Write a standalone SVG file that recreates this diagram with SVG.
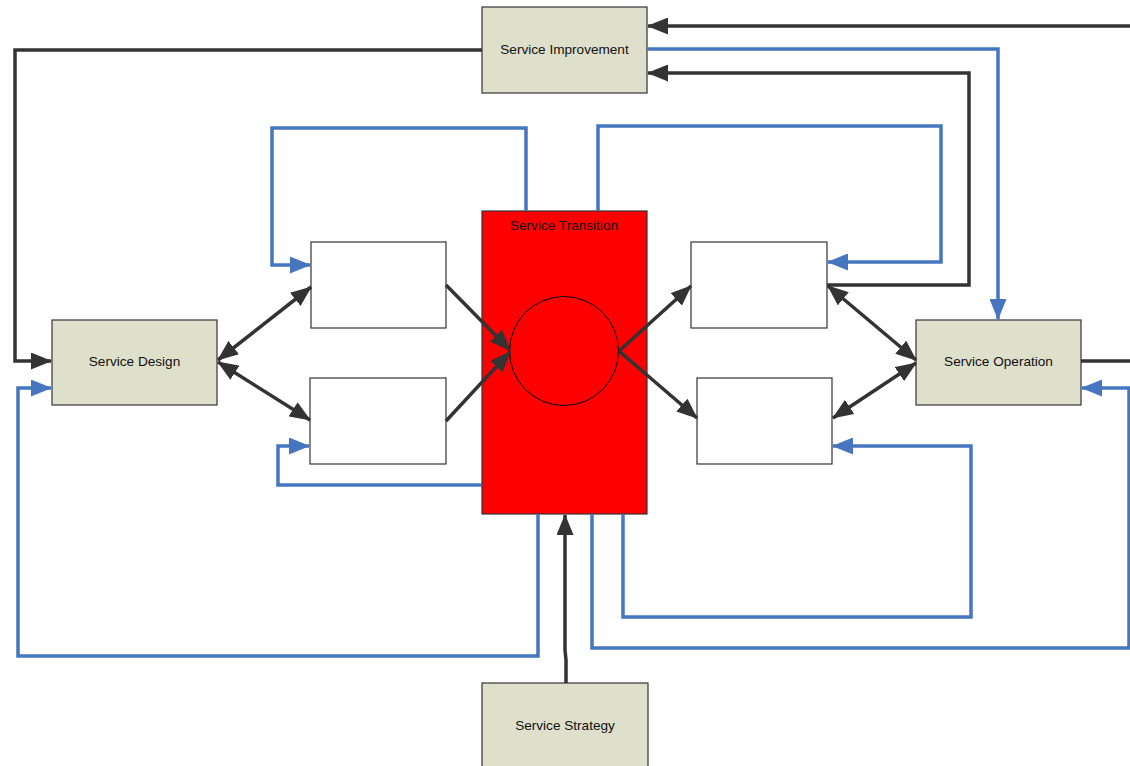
<svg xmlns="http://www.w3.org/2000/svg" width="1130" height="766" viewBox="0 0 1130 766">
  <style>
    .box { fill: #dee0cc; stroke: #333; stroke-width: 1.2; }
    .plain { fill: #fff; stroke: #333; stroke-width: 1.2; }
    .lbl { font-family: "Liberation Sans", Arial, sans-serif; font-size: 13.6px; fill: #111; text-anchor: middle; dominant-baseline: central; }
    .dk { fill: none; stroke: #333; stroke-width: 3.5; stroke-linejoin: miter; }
    .bl { fill: none; stroke: #4676c0; stroke-width: 3.5; stroke-linejoin: miter; }
    .dk.a { marker-end: url(#ah-dk); }
    .dk.aa { marker-start: url(#ah-dk); marker-end: url(#ah-dk); }
    .bl.a { marker-end: url(#ah-bl); }
  </style>
  <defs>
    <marker id="ah-dk" markerUnits="userSpaceOnUse" markerWidth="21" markerHeight="17" viewBox="0 0 21 17" refX="20" refY="8.5" orient="auto-start-reverse">
      <path d="M0,0 L21,8.5 L0,17 Z" fill="#333"/>
    </marker>
    <marker id="ah-bl" markerUnits="userSpaceOnUse" markerWidth="21" markerHeight="17" viewBox="0 0 21 17" refX="20" refY="8.5" orient="auto-start-reverse">
      <path d="M0,0 L21,8.5 L0,17 Z" fill="#4676c0"/>
    </marker>
  </defs>

  <!-- nodes -->
  <g id="service-transition">
    <rect x="482" y="211" width="165" height="303" fill="#ff0000" stroke="#333" stroke-width="1.2"/>
    <text class="lbl" x="564" y="225">Service Transition</text>
    <circle cx="564" cy="351" r="54.5" fill="#ff0000" stroke="#000" stroke-width="1"/>
  </g>
  <g id="service-improvement">
    <rect class="box" x="482" y="7" width="165" height="86"/>
    <text class="lbl" x="564.5" y="49">Service Improvement</text>
  </g>
  <g id="service-design">
    <rect class="box" x="52" y="320" width="165" height="85"/>
    <text class="lbl" x="134.5" y="361">Service Design</text>
  </g>
  <g id="service-operation">
    <rect class="box" x="916" y="320" width="165" height="85"/>
    <text class="lbl" x="998.5" y="361">Service Operation</text>
  </g>
  <g id="service-strategy">
    <rect class="box" x="482" y="683" width="166" height="90"/>
    <text class="lbl" x="565" y="725">Service Strategy</text>
  </g>
  <g id="box-top-left"><rect class="plain" x="311" y="242" width="135" height="86"/></g>
  <g id="box-bottom-left"><rect class="plain" x="310" y="378" width="136" height="86"/></g>
  <g id="box-top-right"><rect class="plain" x="691" y="242" width="136" height="86"/></g>
  <g id="box-bottom-right"><rect class="plain" x="697" y="378" width="135" height="86"/></g>

  <!-- connectors -->
  <g id="connectors">
    <!-- dark flows -->
    <path class="dk a" d="M1130,26 L648,26"/>
    <path class="dk a" d="M482,50 L15,50 L15,361 L51,361"/>
    <path class="dk a" d="M827,285 L969,285 L969,73 L648,73"/>
    <path class="dk" d="M1081,361 L1130,361"/>
    <path class="dk a" d="M566,683 L566,660 L565,650 L565,515"/>
    <path class="dk aa" d="M218,360 L311,287"/>
    <path class="dk aa" d="M218,362 L310,420"/>
    <path class="dk a" d="M446,285 L510,350"/>
    <path class="dk a" d="M446,421 L510,352"/>
    <path class="dk a" d="M619,351 L691,286"/>
    <path class="dk a" d="M619,351 L697,418"/>
    <path class="dk aa" d="M828,286 L916,360"/>
    <path class="dk aa" d="M833,418 L916,363"/>

    <!-- blue flows -->
    <path class="bl a" d="M647,49 L998,49 L998,319"/>
    <path class="bl a" d="M526,211 L526,128 L272,128 L272,265 L310,265"/>
    <path class="bl a" d="M598,211 L598,126 L941,126 L941,262 L828,262"/>
    <path class="bl a" d="M482,485 L278,485 L278,446 L309,446"/>
    <path class="bl a" d="M538,514 L538,656 L18,656 L18,388 L51,388"/>
    <path class="bl a" d="M623,514 L623,617 L971,617 L971,446 L833,446"/>
    <path class="bl a" d="M592,514 L592,648 L1129,648 L1129,388 L1082,388"/>
  </g>
</svg>
